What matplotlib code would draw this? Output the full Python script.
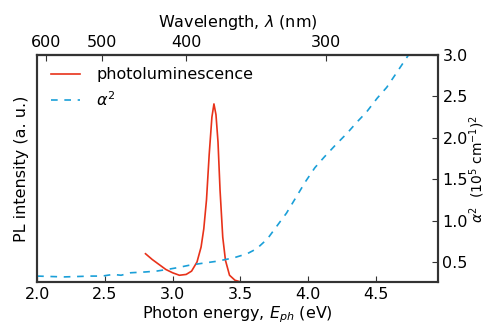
import numpy as np
import matplotlib; matplotlib.use("Agg")
import matplotlib.pyplot as plt

RED = "#e8321a"; BLUE = "#1a9fd8"; SPINE = "#333333"
plt.rcParams["font.size"] = 11.5
plt.rcParams["mathtext.fontset"] = "dejavusans"

# PL spectrum (a.u., drawn on the same scale as the right axis)
pl_E = [2.80, 2.85, 2.90, 2.95, 3.00, 3.05, 3.10, 3.14, 3.18, 3.21, 3.23, 3.25, 3.27, 3.29,
        3.305, 3.32, 3.335, 3.35, 3.37, 3.39, 3.42, 3.46, 3.50]
pl_I = [0.60, 0.53, 0.47, 0.41, 0.37, 0.34, 0.35, 0.39, 0.50, 0.68, 0.90, 1.25, 1.80, 2.25,
        2.41, 2.28, 1.95, 1.37, 0.80, 0.52, 0.34, 0.28, 0.26]

# absorption coefficient squared (10^5 cm^-1)^2
a_E = [2.00, 2.20, 2.40, 2.48, 2.56, 2.62, 2.69, 2.80, 2.88, 2.96, 3.03, 3.12, 3.20, 3.33,
       3.45, 3.55, 3.62, 3.70, 3.79, 3.84, 3.91, 3.98, 4.05, 4.12, 4.20, 4.29, 4.36, 4.43,
       4.51, 4.58, 4.65, 4.74]
a_V = [0.33, 0.32, 0.33, 0.33, 0.35, 0.34, 0.37, 0.38, 0.39, 0.41, 0.43, 0.46, 0.48, 0.51,
       0.55, 0.60, 0.66, 0.78, 0.98, 1.09, 1.28, 1.47, 1.64, 1.77, 1.91, 2.06, 2.19, 2.31,
       2.48, 2.61, 2.78, 3.00]

wl_ticks = [600, 500, 400, 300]

fig = plt.figure(figsize=(4.88, 3.24), dpi=100)
ax = fig.add_axes([0.076, 0.13, 0.822, 0.70])
ax2 = ax.twinx()

l1, = ax.plot(pl_E, pl_I, color=RED, lw=1.2, label="photoluminescence")
l2, = ax2.plot(a_E, a_V, color=BLUE, lw=1.2, ls=(0, (4, 4)), label=r"$\alpha^2$")

xlim = (2.0, 1240 / 250)
ylim = (0.26, 3.0)
ax.set_xlim(xlim); ax.set_ylim(ylim); ax2.set_ylim(ylim)
ax.set_xticks([2.0, 2.5, 3.0, 3.5, 4.0, 4.5])
ax.set_yticks([])
ax2.set_yticks([0.5, 1.0, 1.5, 2.0, 2.5, 3.0])
ax.tick_params(axis="x", direction="in", length=4, colors=SPINE, labelcolor="black")
ax2.tick_params(axis="y", direction="in", length=4, colors=SPINE, labelcolor="black", pad=3)

with np.errstate(divide="ignore"):
    top = ax.secondary_xaxis("top", functions=(lambda e: 1240 / e, lambda l: 1240 / l))
top.set_xticks(wl_ticks)
top.set_xticklabels([str(w) for w in wl_ticks])
top.tick_params(direction="in", length=4, colors=SPINE, labelcolor="black")
top.set_xlabel(r"Wavelength, $\lambda$ (nm)", labelpad=6)

ax.set_xlabel(r"Photon energy, $E_{ph}$ (eV)", labelpad=2)
ax.set_ylabel("PL intensity (a. u.)", labelpad=6)
ax2.set_ylabel(r"$\alpha^2$  $(10^5$ cm$^{-1})^2$", labelpad=0, fontsize=10)

for a in (ax, ax2):
    for s in a.spines.values():
        s.set_color(SPINE); s.set_linewidth(1.5)
top.spines["top"].set_color(SPINE); top.spines["top"].set_linewidth(1.5)

ax2.legend(handles=[l1, l2], loc="upper left", frameon=False, bbox_to_anchor=(0.0, 1.01),
           handlelength=1.8, handletextpad=1.0, labelspacing=0.5, fontsize=11.5)

fig.savefig("out.png", dpi=100)
